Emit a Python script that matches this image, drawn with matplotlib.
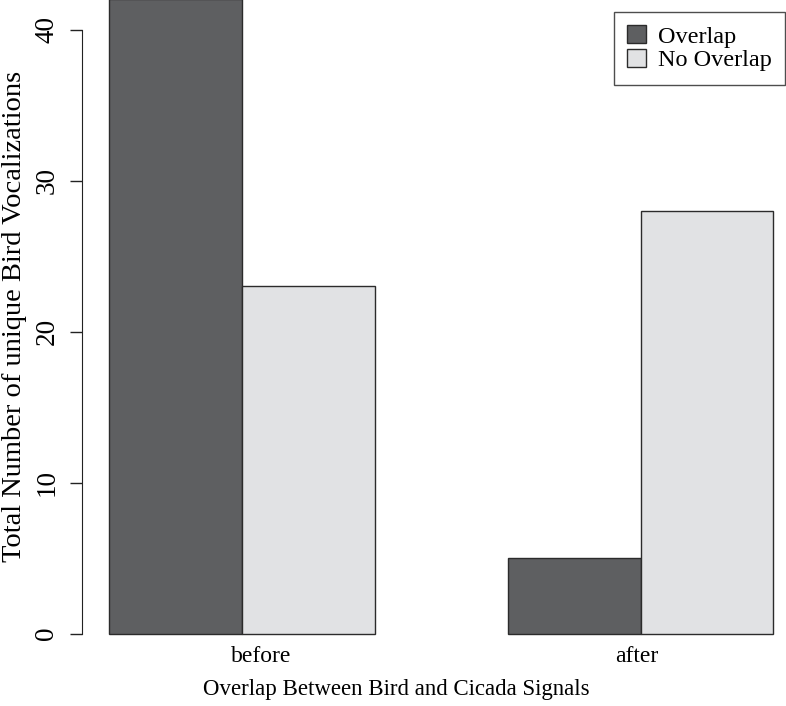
import numpy as np
import matplotlib.pyplot as plt
from matplotlib.transforms import ScaledTranslation

groups = ["before", "after"]
series = ["Overlap", "No Overlap"]
overlap = [42, 5]
no_overlap = [23, 28]
y_ticks = [0, 10, 20, 30, 40]

colors = ["#5e5f61", "#e1e2e4"]

plt.rcParams["font.family"] = ["Liberation Serif", "DejaVu Serif"]

W, H = 786, 706
fig = plt.figure(figsize=(W / 100, H / 100), dpi=100)
# plot region in pixels (R-style, partly cropped off the image)
left_px, right_px, bottom_px, top_px = 82.4, 800, 659, -26
ax = fig.add_axes([left_px / W, 1 - bottom_px / H,
                   (right_px - left_px) / W, (bottom_px - top_px) / H])

# beside=TRUE layout: bars of width 1, one unit gap between groups
group_starts = np.arange(len(groups)) * 3
values = [overlap, no_overlap]
bars = []
for i, vals in enumerate(values):
    b = ax.bar(group_starts + i + 0.5, vals, width=1, color=colors[i],
               edgecolor="#2b2b2b", linewidth=1.0, label=series[i])
    bars.append(b)

ymax = max(max(overlap), max(no_overlap))
ax.set_xlim(-0.2, 5.2)
ax.set_ylim(-0.04 * ymax, ymax * 1.04)

for s in ["top", "right", "bottom"]:
    ax.spines[s].set_visible(False)
ax.spines["left"].set_bounds(y_ticks[0], y_ticks[-1])
ax.spines["left"].set_color("#222222")

ax.set_yticks(y_ticks)
ax.set_yticklabels([str(t) for t in y_ticks], rotation=90, va="center",
                   fontsize=19.5)
ax.tick_params(axis="y", direction="out", length=8.5, width=1.0,
               color="#222222", pad=8)

ax.set_xticks(group_starts + 1)
ax.set_xticklabels(groups, fontsize=17)
ax.tick_params(axis="x", length=0, pad=-9.5)
# small horizontal nudges so the labels sit where the original put them
for lab, dx in zip(ax.get_xticklabels(), [19, -4]):
    lab.set_transform(lab.get_transform() +
                      ScaledTranslation(dx / 100, 0, fig.dpi_scale_trans))

fig.text(396 / W, 1 - 690 / H,
         "Overlap Between Bird and Cicada Signals",
         ha="center", va="center", fontsize=16.5)
fig.text(15 / W, 1 - 316 / H, "Total Number of unique Bird Vocalizations",
         ha="center", va="center", rotation=90, fontsize=20.5)

leg = fig.legend(handles=bars, labels=series, loc="upper right",
                 bbox_to_anchor=(785 / W, 1 - 12 / H), fontsize=17.5,
                 frameon=True, fancybox=False, handlelength=0.75,
                 handleheight=0.75, handletextpad=0.5, borderpad=0.55,
                 labelspacing=0.05, borderaxespad=0)
leg.get_frame().set_edgecolor("#222222")
leg.get_frame().set_linewidth(1.0)

fig.savefig("out.png", dpi=100)
